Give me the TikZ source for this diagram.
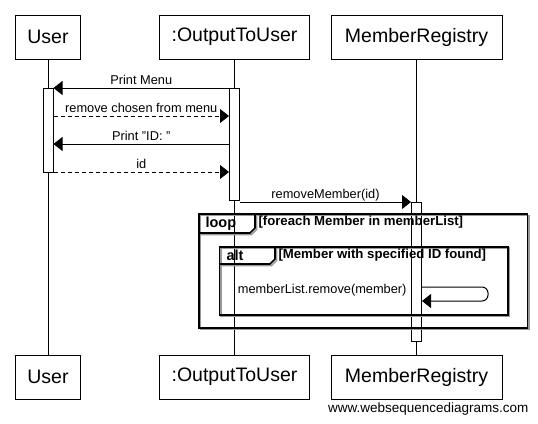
\documentclass[tikz,border=0pt]{standalone}
\usepackage{fontspec}
\setmainfont{Liberation Sans}
\usetikzlibrary{arrows.meta}

\begin{document}
\begin{tikzpicture}[
    x=1pt, y=-1pt, line width=1pt,
    actor/.style={draw, minimum height=44pt, inner xsep=12pt, font=\fontsize{19.5}{22}\selectfont},
    act/.style={draw, fill=white, minimum width=10pt, inner sep=0pt},
    msg/.style={-{Triangle[length=9pt, width=14pt]}},
    reply/.style={msg, dash pattern=on 4pt off 3pt},
    lbl/.style={font=\fontsize{12.8}{14}\selectfont, inner ysep=3pt, inner xsep=1pt, text depth=0pt},
    frame/.style={line width=1.6pt},
    shade/.style={line width=1.6pt, black!40},
    tag/.style={font=\bfseries\fontsize{14.5}{16}\selectfont, anchor=west, inner sep=0pt},
    guard/.style={font=\bfseries\fontsize{13.2}{15}\selectfont, anchor=west, inner sep=0pt}
]
\useasboundingbox (0,0) rectangle (538,423);

% Participants
\node[actor] (userTop) at (48, 37) {User};
\node[actor] (outTop) at (234.5, 37) {:OutputToUser};
\node[actor, minimum width=171pt] (regTop) at (416.5, 37) {MemberRegistry};
\node[actor] (userBot) at (48, 377) {User};
\node[actor] (outBot) at (234.5, 377) {:OutputToUser};
\node[actor, minimum width=171pt] (regBot) at (416.5, 377) {MemberRegistry};

% Lifelines
\draw (userTop) -- (userBot);
\draw (outTop) -- (outBot);
\draw (regTop) -- (regBot);

% Activations
\node[act, minimum height=84pt] (userAct) at (48, 130) {};
\node[act, minimum height=112pt] (outAct) at (234.5, 144) {};
\node[act, minimum height=139pt] (regAct) at (416.5, 271.5) {};

% Message rows
\coordinate (rowA) at (0, 88);
\coordinate (rowB) at (0, 116);
\coordinate (rowC) at (0, 144);
\coordinate (rowD) at (0, 172);
\coordinate (rowE) at (0, 202);
\coordinate (rowF) at (0, 287);
\coordinate (rowG) at (0, 301);

% loop frame
\draw[shade] (200.5, 215.5) rectangle (529, 329.5);
\draw[shade] (200.5, 234.5) -- (251.5, 234.5) -- (256.5, 229.5) -- (256.5, 215.5);
\draw[frame] (199, 214) rectangle (527.5, 328);
\draw[frame] (199, 233) -- (250, 233) -- (255, 228) -- (255, 214);
\node[tag] (loopTag) at (205, 223.5) {loop};
\node[guard] (loopGuard) at (258, 222) {[foreach Member in memberList]};

% alt frame
\draw[shade] (220.8, 248.2) rectangle (509.5, 316.5);
\draw[shade] (220.8, 265.5) -- (271.5, 265.5) -- (276.5, 260.5) -- (276.5, 248.2);
\draw[frame] (219.3, 246.7) rectangle (508, 315);
\draw[frame] (219.3, 264) -- (270, 264) -- (275, 259) -- (275, 246.7);
\node[tag] (altTag) at (226, 255.5) {alt};
\node[guard] (altGuard) at (278, 255) {[Member with specified ID found]};

% Messages
\draw[msg] (outAct.west |- rowA) -- node[lbl, above] {Print Menu} (userAct.east |- rowA);
\draw[reply] (userAct.east |- rowB) -- node[lbl, above] {remove chosen from menu} (outAct.west |- rowB);
\draw[msg] (outAct.west |- rowC) -- node[lbl, above] {Print "ID: "} (userAct.east |- rowC);
\draw[reply] (userAct.east |- rowD) -- node[lbl, above] {id} (outAct.west |- rowD);
\draw[msg] (outAct.east |- rowE) -- node[lbl, above] {removeMember(id)} (regAct.west |- rowE);
\draw[msg, rounded corners=6pt] (regAct.east |- rowF) -- ++(66, 0) -- ++(0, 14) -- (regAct.east |- rowG);
\node[lbl, anchor=east] (selfLbl) at (408, 289) {memberList.remove(member)};

\node[anchor=east, inner sep=0pt, font=\fontsize{13.5}{15}\selectfont] (credit) at (529, 409) {www.websequencediagrams.com};

\end{tikzpicture}
\end{document}
